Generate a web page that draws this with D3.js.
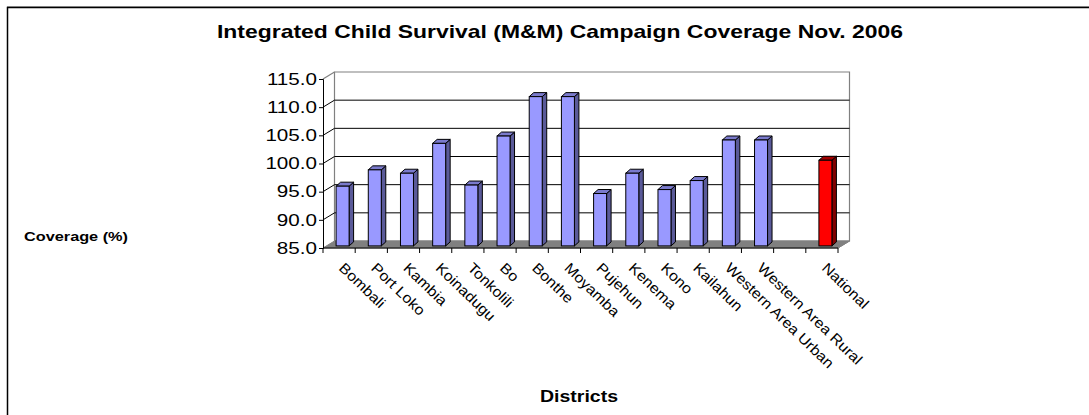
<!DOCTYPE html>
<html>
<head>
<meta charset="utf-8">
<script src="https://cdn.jsdelivr.net/npm/d3@7"></script>
<style>
  body { margin: 0; background: #fff; }
  svg { display: block; font-family: "Liberation Sans", Arial, sans-serif; }
</style>
</head>
<body>
<svg id="chart"></svg>
<script>
// chart data
var districts = ["Bombali", "Port Loko", "Kambia", "Koinadugu", "Tonkolili", "Bo", "Bonthe", "Moyamba",
                 "Pujehun", "Kenema", "Kono", "Kailahun", "Western Area Urban", "Western Area Rural", "", "National"]
var coverage = [95.6, 98.5, 97.9, 103.2, 95.8, 104.5, 111.5, 111.5,
                94.3, 97.9, 95.0, 96.6, 103.8, 103.8, null, 100.2]
var yTicks = [85, 90, 95, 100, 105, 110, 115]
var titleText = "Integrated Child Survival (M&M) Campaign Coverage Nov. 2006"
var yTitle = "Coverage (%)"
var xTitle = "Districts"

var W = 1089, H = 415
var svg = d3.select("#chart").attr("width", W).attr("height", H)

// the picture is a bit wider than tall text would be, so stretch text sideways
var stretch = 1.25
function widen(sel, k) {
  sel.each(function() {
    var len = this.getComputedTextLength()
    d3.select(this).attr("textLength", len * k).attr("lengthAdjust", "spacingAndGlyphs")
  })
}

// 3d offsets
var dX = 11.5, dY = -7        // floor / wall depth
var bOffX = 3.5, bOffY = -2.1 // bar position inside the depth
var bDX = 4.5, bDY = -4       // bar thickness
var barW = 13

var x = d3.scaleBand().domain(districts.map((d, i) => i)).range([323, 838])
var y = d3.scaleLinear().domain([85, 115]).range([248, 79])

// outer frame
svg.append("rect")
  .attr("x", 7.5).attr("y", 7.5).attr("width", 1200).attr("height", 600)
  .attr("fill", "#fff").attr("stroke", "#000").attr("stroke-width", 1.5)
svg.append("line")
  .attr("x1", 7).attr("x2", W).attr("y1", 6.5).attr("y2", 6.5)
  .attr("stroke", "#808080").attr("stroke-width", 1)

// title
svg.append("text")
  .text(titleText)
  .attr("x", 560).attr("y", 38)
  .attr("text-anchor", "middle")
  .style("font-weight", "bold").style("font-size", "19px")
  .attr("textLength", 686).attr("lengthAdjust", "spacingAndGlyphs")

var x0 = x.range()[0], x1 = x.range()[1]

// back wall and left wall
svg.append("path")
  .attr("d", `M${x0 + dX},${y(115) + dY}L${x1 + dX},${y(115) + dY}L${x1 + dX},${y(85) + dY}L${x0 + dX},${y(85) + dY}Z`)
  .attr("fill", "#fff").attr("stroke", "#808080").attr("stroke-width", 1.2)
svg.append("path")
  .attr("d", `M${x0},${y(115)}L${x0 + dX},${y(115) + dY}`)
  .attr("fill", "none").attr("stroke", "#808080").attr("stroke-width", 1.2)

// gridlines
var grid = svg.append("g")
grid.selectAll("path")
  .data(yTicks.filter(t => t > 85 && t < 115))
  .enter()
  .append("path")
  .attr("d", t => `M${x0},${y(t)}L${x0 + dX},${y(t) + dY}L${x1 + dX},${y(t) + dY}`)
  .attr("fill", "none").attr("stroke", "#000").attr("stroke-width", 1)

// floor
svg.append("path")
  .attr("d", `M${x0},${y(85)}L${x1},${y(85)}L${x1 + dX},${y(85) + dY}L${x0 + dX},${y(85) + dY}Z`)
  .attr("fill", "#808080").attr("stroke", "#808080").attr("stroke-width", 1)

// bars
var bars = svg.append("g")
  .selectAll("g")
  .data(districts.map((d, i) => ({ i: i, name: d, v: coverage[i] })).filter(d => d.v != null))
  .enter()
  .append("g")
function bx(d) { return x(d.i) + (x.bandwidth() - barW) / 2 + bOffX }
function btop(d) { return y(d.v) + bOffY }
var base = y(85) + bOffY
var isNat = d => d.name == "National"

bars.append("path")
  .attr("d", d => `M${bx(d) + barW},${btop(d)}L${bx(d) + barW + bDX},${btop(d) + bDY}L${bx(d) + barW + bDX},${base + bDY}L${bx(d) + barW},${base}Z`)
  .attr("fill", d => isNat(d) ? "#800000" : "#5a5a99")
  .attr("stroke", "#000").attr("stroke-width", 1).attr("stroke-linejoin", "round")
bars.append("path")
  .attr("d", d => `M${bx(d)},${btop(d)}L${bx(d) + bDX},${btop(d) + bDY}L${bx(d) + barW + bDX},${btop(d) + bDY}L${bx(d) + barW},${btop(d)}Z`)
  .attr("fill", d => isNat(d) ? "#a00000" : "#7a7acc")
  .attr("stroke", "#000").attr("stroke-width", 1).attr("stroke-linejoin", "round")
bars.append("rect")
  .attr("x", bx).attr("y", btop)
  .attr("width", barW).attr("height", d => base - btop(d))
  .attr("fill", d => isNat(d) ? "#ff0000" : "#9999ff")
  .attr("stroke", "#000").attr("stroke-width", 1)

// y axis
var yAxis = svg.append("g")
  .attr("transform", `translate(${x0},0)`)
  .call(d3.axisLeft(y).tickValues(yTicks).tickFormat(d3.format(".1f")).tickSize(4).tickPadding(2))
yAxis.select(".domain").attr("stroke", "#000")
yAxis.selectAll("text")
  .style("font-size", "16.5px").style("font-family", "Liberation Sans, Arial, sans-serif")
  .attr("fill", "#000")
  .call(widen, stretch)

// x axis along the floor front edge
var xAxis = svg.append("g")
xAxis.append("line")
  .attr("x1", x0).attr("x2", x1).attr("y1", y(85)).attr("y2", y(85))
  .attr("stroke", "#000").attr("stroke-width", 1.2)
xAxis.append("line")
  .attr("x1", x1).attr("x2", x1 + dX).attr("y1", y(85)).attr("y2", y(85) + dY)
  .attr("stroke", "#808080").attr("stroke-width", 1)
xAxis.selectAll("line.tick")
  .data(districts.map((d, i) => i).concat([districts.length]))
  .enter()
  .append("line")
  .attr("class", "tick")
  .attr("x1", i => i < districts.length ? x(i) : x1)
  .attr("x2", i => i < districts.length ? x(i) : x1)
  .attr("y1", y(85)).attr("y2", y(85) + 5)
  .attr("stroke", "#000").attr("stroke-width", 1)

xAxis.selectAll("text")
  .data(districts.map((d, i) => ({ i: i, name: d })).filter(d => d.name != ""))
  .enter()
  .append("text")
  .text(d => d.name)
  .attr("transform", d => `translate(${x(d.i) + x.bandwidth() / 2 - 1},${y(85) + 21}) rotate(44)`)
  .style("font-size", "14.5px")
  .call(widen, 1.1)

// axis titles
svg.append("text")
  .text(yTitle)
  .attr("x", 24).attr("y", 241)
  .style("font-weight", "bold").style("font-size", "13px")
  .attr("textLength", 104).attr("lengthAdjust", "spacingAndGlyphs")
svg.append("text")
  .text(xTitle)
  .attr("x", 579).attr("y", 402)
  .attr("text-anchor", "middle")
  .style("font-weight", "bold").style("font-size", "16px")
  .attr("textLength", 78).attr("lengthAdjust", "spacingAndGlyphs")
</script>
</body>
</html>
